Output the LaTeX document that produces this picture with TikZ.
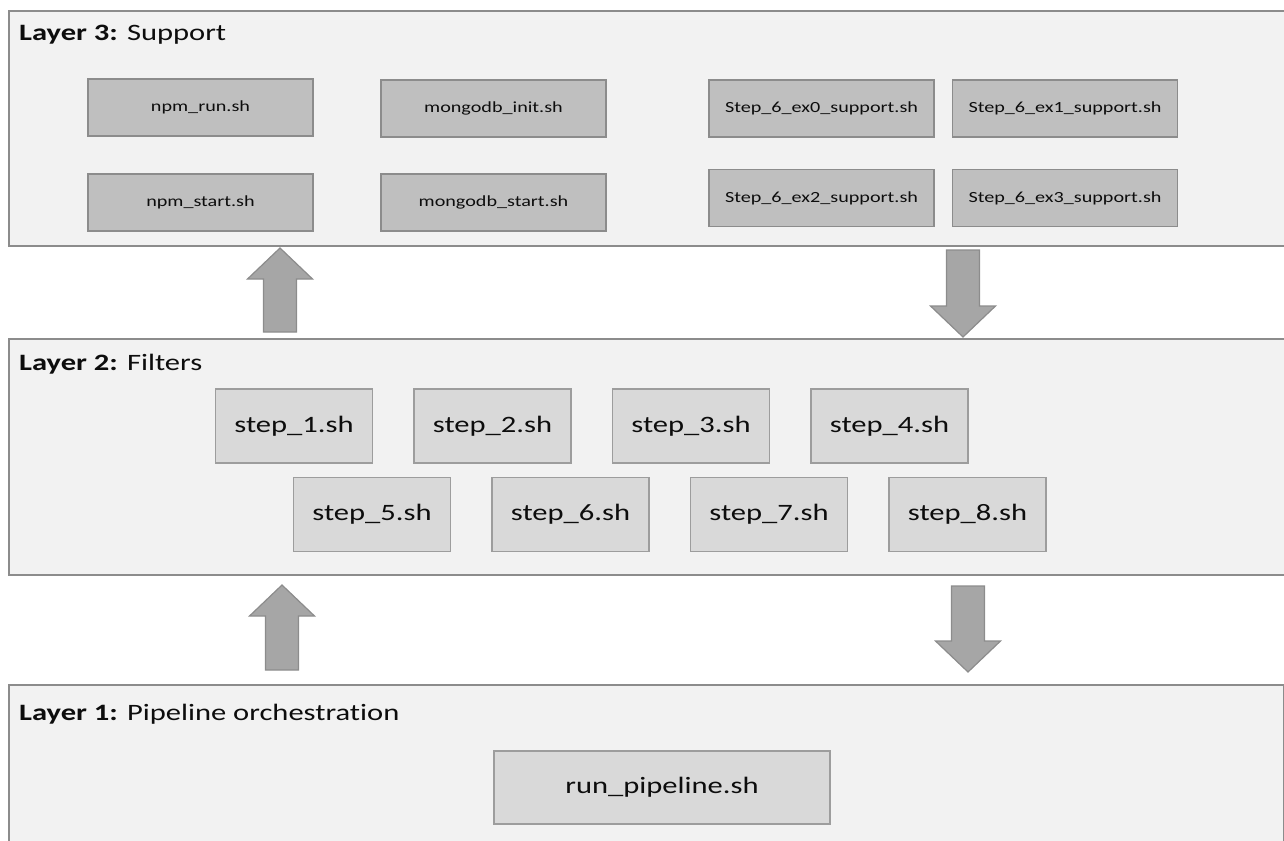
\documentclass[tikz,border=0pt]{standalone}
\usepackage{fontspec}
\setmainfont[FakeStretch=1.3,RawFeature={-liga;-clig;-calt;-dlig}]{Carlito}
\usepackage{xcolor}
\usepackage{tikz}
\usetikzlibrary{calc}
\definecolor{panel}{HTML}{F2F2F2}
\definecolor{frame}{HTML}{8C8C8C}
\definecolor{dark}{HTML}{BFBFBF}
\definecolor{light}{HTML}{D9D9D9}
\definecolor{block}{HTML}{A6A6A6}
\definecolor{ink}{HTML}{0D0D0D}
\tikzset{
  layer/.style={draw=frame,fill=panel,line width=2pt,anchor=north west,inner sep=0pt},
  lbl/.style={font=\fontsize{23.5}{28}\selectfont,text=ink,anchor=base west,inner sep=0pt},
  support/.style={draw=frame,fill=dark,line width=1.5pt,minimum width=225pt,minimum height=57pt,inner sep=0pt,font=\fontsize{15.5}{18}\selectfont,text=ink},
  filter/.style={draw=frame!85,fill=light,line width=1.5pt,minimum width=157pt,minimum height=74pt,inner sep=0pt,font=\fontsize{23.5}{28}\selectfont,text=ink},
  fat/.style={draw=frame,fill=block,line width=1.2pt,line join=miter},
}
\newcommand{\fatarrow}[2]{%
  \path ($(#2)!31pt!(#1)$) coordinate (neck);
  \draw[fat] ([xshift=-16.5pt]#1) -- ([xshift=-16.5pt]neck) -- ([xshift=-32.5pt]neck) -- (#2)
    -- ([xshift=32.5pt]neck) -- ([xshift=16.5pt]neck) -- ([xshift=16.5pt]#1) -- cycle;
}
\begin{document}
\begin{tikzpicture}[x=1pt,y=-1pt]
    \useasboundingbox (0,0) rectangle (1284,840);
    \clip (0,0) rectangle (1284,840);
    % layers
    \node[layer,minimum width=1300pt,minimum height=235pt] (l3) at (8,10) {};
    \node[layer,minimum width=1300pt,minimum height=236pt] (l2) at (8,338) {};
    \node[layer,minimum width=1275pt,minimum height=200pt] (l1) at (8,684) {};
    \node[lbl] (l3lbl) at (19,41) {\textbf{Layer 3:} Support};
    \node[lbl] (l2lbl) at (19,370) {\textbf{Layer 2:} Filters};
    \node[lbl] (l1lbl) at (19,720) {\textbf{Layer 1:} Pipeline orchestration};
    % support scripts
    \node[support] (npmrun) at (200.5,107.5) {npm\_run.sh};
    \node[support] (npmstart) at (200.5,202.5) {npm\_start.sh};
    \node[support] (mongoinit) at (493.5,108.5) {mongodb\_init.sh};
    \node[support] (mongostart) at (493.5,202.5) {mongodb\_start.sh};
    \foreach \i/\x/\y in {0/821.5/108.5,1/1065/108.5,2/821.5/198,3/1065/198} {
      \node[support] (ex\i) at (\x,\y) {Step\_6\_ex\i\_support.sh};
    }
    % filter steps, two staggered rows
    \foreach \i in {1,...,4} {
      \node[filter] (s\i) at (95.5+\i*198.5,426) {step\_\i.sh};
    }
    \foreach \i in {5,...,8} {
      \node[filter] (s\i) at (-620.5+\i*198.5,514.5) {step\_\i.sh};
    }
    % orchestration
    \node[filter,minimum width=336pt,minimum height=73pt] (runpipe) at (662,787.5) {run\_pipeline.sh};
    % arrows between layers
    \coordinate (up2a) at ($(l1.north west)+(274,-14)$);
    \coordinate (up2b) at ($(l2.south west)+(274,9)$);
    \coordinate (up1a) at ($(l2.north west)+(272,-6)$);
    \coordinate (up1b) at ($(l3.south west)+(272,1)$);
    \coordinate (dn1a) at ($(l3.south west)+(955,3)$);
    \coordinate (dn1b) at ($(l2.north west)+(955,-1)$);
    \coordinate (dn2a) at ($(l2.south west)+(960,10)$);
    \coordinate (dn2b) at ($(l1.north west)+(960,-12)$);
    \fatarrow{up2a}{up2b}
    \fatarrow{up1a}{up1b}
    \fatarrow{dn1a}{dn1b}
    \fatarrow{dn2a}{dn2b}
  \end{tikzpicture}
\end{document}
